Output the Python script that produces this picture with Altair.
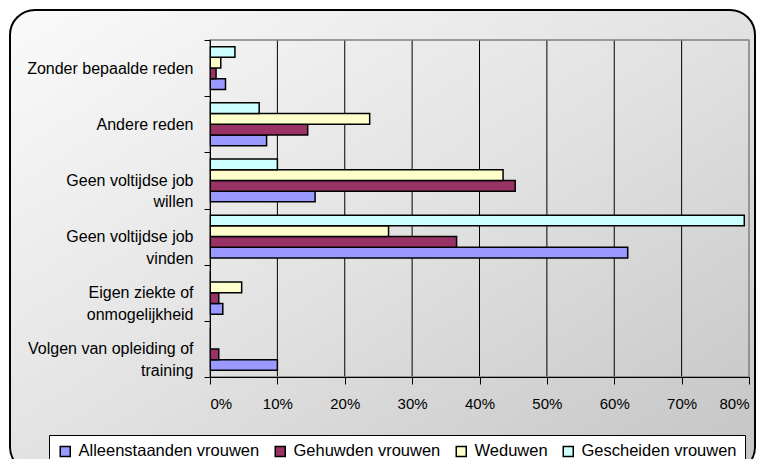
import altair as alt
import pandas as pd

# ---------------- data ----------------
CATEGORIES = [
    "Zonder bepaalde reden",
    "Andere reden",
    "Geen voltijdse job willen",
    "Geen voltijdse job vinden",
    "Eigen ziekte of onmogelijkheid",
    "Volgen van opleiding of training",
]
SERIES = ["Alleenstaanden vrouwen", "Gehuwden vrouwen", "Weduwen", "Gescheiden vrouwen"]
ALLEENSTAANDEN = [2.3, 8.4, 15.6, 62.0, 1.9, 10.0]
GEHUWDEN = [0.9, 14.5, 45.3, 36.6, 1.3, 1.3]
WEDUWEN = [1.6, 23.7, 43.5, 26.5, 4.7, 0.0]
GESCHEIDEN = [3.7, 7.3, 10.0, 79.3, 0.0, 0.0]
COLORS = ["#9999FF", "#993366", "#FFFFCC", "#CCFFFF"]
X_TICKS = [0, 0.1, 0.2, 0.3, 0.4, 0.5, 0.6, 0.7, 0.8]
GRID_TICKS = [0.1, 0.2, 0.3, 0.4, 0.5, 0.6, 0.7]

NB = "\u00a0"
LABEL_LINES = {
    "Zonder bepaalde reden": ["Zonder bepaalde reden"],
    "Andere reden": ["Andere reden"],
    "Geen voltijdse job willen": ["Geen voltijdse job", "willen" + NB * 10],
    "Geen voltijdse job vinden": ["Geen voltijdse job", "vinden" + NB * 9],
    "Eigen ziekte of onmogelijkheid": ["Eigen ziekte of", "onmogelijkheid"],
    "Volgen van opleiding of training": ["Volgen van opleiding of", "training" + NB * 13],
}

rows = []
for s, vals in zip(SERIES, [ALLEENSTAANDEN, GEHUWDEN, WEDUWEN, GESCHEIDEN]):
    for c, v in zip(CATEGORIES, vals):
        rows.append({"cat": c, "serie": s, "pct": v / 100.0})
df = pd.DataFrame(rows)
grid_df = pd.DataFrame({"v": GRID_TICKS})
one = pd.DataFrame({"k": [0]})

W, H = 539, 337
FONT = "Liberation Sans"


def q(s):
    return "'" + s + "'"


label_expr = ""
for c in CATEGORIES:
    arr = "[" + ", ".join(q(t) for t in LABEL_LINES[c]) + "]"
    label_expr += f"datum.label == {q(c)} ? {arr} : "
label_expr += "''"

xscale = alt.Scale(domain=[0, 0.8], nice=False, zero=True)

frame = alt.Chart(one).mark_rect(
    fill=alt.Gradient(
        gradient="linear",
        stops=[
            alt.GradientStop(color="#fafafa", offset=0),
            alt.GradientStop(color="#e2e2e2", offset=0.5),
            alt.GradientStop(color="#c4c4c4", offset=1),
        ],
        x1=0, y1=0, x2=1, y2=1,
    ),
    stroke="black",
    strokeWidth=2,
    cornerRadius=25,
).encode(
    x=alt.value(-200), x2=alt.value(545), y=alt.value(-30), y2=alt.value(432)
)

grid = alt.Chart(grid_df).mark_rule(color="black", strokeWidth=1).encode(
    x=alt.X("v:Q", scale=xscale)
)

bars = alt.Chart(df).mark_bar(stroke="black", strokeWidth=1.5).encode(
    y=alt.Y(
        "cat:N",
        sort=CATEGORIES,
        scale=alt.Scale(paddingInner=0, paddingOuter=0),
        axis=alt.Axis(
            title=None,
            labelExpr=label_expr,
            labelFont=FONT,
            labelFontSize=16,
            labelColor="black",
            labelLineHeight=21.5,
            labelLimit=0,
            labelPadding=11,
            tickSize=6,
            tickColor="black",
            tickBand="extent",
            domainColor="black",
            domainWidth=1,
            grid=False,
            zindex=1,
        ),
    ),
    yOffset=alt.YOffset(
        "serie:N",
        sort=["Gescheiden vrouwen", "Weduwen", "Gehuwden vrouwen", "Alleenstaanden vrouwen"],
        scale=alt.Scale(paddingInner=0, paddingOuter=0.62),
    ),
    x=alt.X(
        "pct:Q",
        scale=xscale,
        axis=alt.Axis(
            title=None,
            values=X_TICKS,
            format=".0%",
            labelFont=FONT,
            labelFontSize=15,
            labelColor="black",
            labelPadding=12,
            tickSize=7,
            tickColor="black",
            domainColor="black",
            domainWidth=1,
            grid=False,
            zindex=1,
        ),
    ),
    color=alt.Color(
        "serie:N",
        scale=alt.Scale(domain=SERIES, range=COLORS),
        legend=alt.Legend(
            title=None,
            orient="none",
            legendX=-161,
            legendY=395,
            direction="horizontal",
            columns=4,
            symbolType="square",
            symbolSize=100,
            symbolStrokeColor="black",
            symbolStrokeWidth=1.5,
            symbolOpacity=1,
            labelFont=FONT,
            labelFontSize=16.5,
            labelColor="black",
            labelLimit=0,
            labelOffset=5,
            columnPadding=12,
            padding=8,
            fillColor="white",
            strokeColor="black",
        ),
    ),
)

border = alt.Chart(one).mark_rect(fill="transparent", stroke="#808080", strokeWidth=1.5).encode(
    x=alt.value(0), x2=alt.value(W), y=alt.value(0), y2=alt.value(H)
)

chart = alt.layer(frame, grid, bars, border).properties(
    width=W,
    height=H,
    autosize=alt.AutoSizeParams(type="none"),
    padding={"left": 202, "top": 32, "right": 7, "bottom": 82},
    background="white",
).configure_view(strokeWidth=0)

chart.save("out.html", embed_options={"renderer": "svg", "actions": False})
